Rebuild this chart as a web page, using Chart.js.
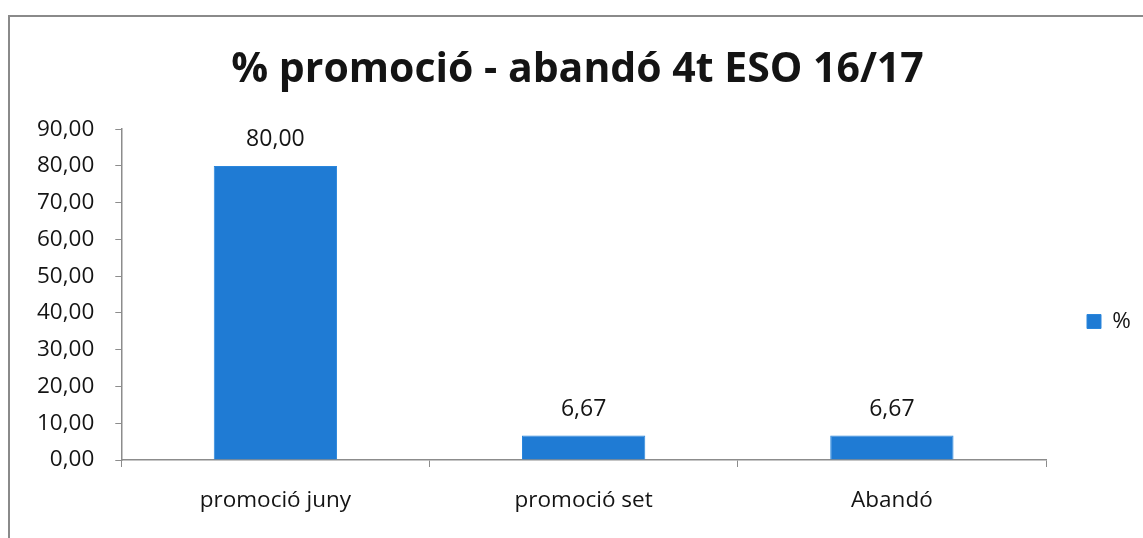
<!DOCTYPE html>
<html>
<head>
<meta charset="utf-8">
<script src="https://cdn.jsdelivr.net/npm/chart.js@4/dist/chart.umd.min.js"></script>
<style>
  html, body { margin: 0; padding: 0; background: #fff; overflow: hidden; }
  #frame { position: absolute; left: 8px; top: 15px; width: 1150px; height: 540px; border: 2px solid #8a8a8a; box-sizing: border-box; }
  #wrap { position: absolute; left: 0; top: 0; width: 1143px; height: 538px; }
</style>
</head>
<body>
<div id="frame"></div>
<div id="wrap"><canvas id="chart"></canvas></div>
<script>
const categories = ['promoció juny', 'promoció set', 'Abandó'];
const values = [80.00, 6.67, 6.67];
const seriesName = '%';
const chartTitle = '% promoció - abandó 4t ESO 16/17';

const fmt = v => v.toFixed(2).replace('.', ',');
const fontFamily = '"Open Sans", "Noto Sans", sans-serif';

// value labels above the bars
const barLabels = {
  id: 'barLabels',
  afterDatasetsDraw(chart) {
    const ctx = chart.ctx;
    const meta = chart.getDatasetMeta(0);
    ctx.save();
    ctx.font = '23px ' + fontFamily;
    ctx.fillStyle = '#141414';
    ctx.textAlign = 'center';
    ctx.textBaseline = 'bottom';
    meta.data.forEach((bar, i) => {
      ctx.fillText(fmt(values[i]), bar.x, bar.y - 15);
    });
    ctx.restore();
  }
};

// make the legend column wider so the plot ends where the original does
const legendWidth = {
  id: 'legendWidth',
  beforeLayout(chart) {
    const lg = chart.legend;
    if (lg && !lg._widthPatched) {
      const fit = lg.fit.bind(lg);
      lg.fit = function () { fit(); this.width = 93; };
      lg._widthPatched = true;
    }
  }
};

let ctx = document.getElementById('chart').getContext('2d');
let chart = new Chart(ctx, {
  type: 'bar',
  data: {
    labels: categories,
    datasets: [{
      label: seriesName,
      data: values,
      backgroundColor: '#1f7bd4',
      borderColor: '#2a86dc',
      borderWidth: 1,
      categoryPercentage: 1.0,
      barPercentage: 0.4
    }]
  },
  options: {
    responsive: true,
    maintainAspectRatio: false,
    animation: false,
    layout: { padding: { left: 16, right: 4, top: 46, bottom: 4 } },
    scales: {
      y: {
        min: 0,
        max: 90,
        ticks: {
          stepSize: 10,
          padding: 21,
          color: '#141414',
          font: { family: fontFamily, size: 22.5 },
          callback: v => fmt(v)
        },
        grid: { drawOnChartArea: false, drawTicks: true, tickLength: 6, color: '#8c8c8c' },
        border: { display: true, color: '#8c8c8c', width: 1.5 }
      },
      x: {
        ticks: {
          padding: 20,
          color: '#141414',
          font: { family: fontFamily, size: 22.5 }
        },
        grid: { drawOnChartArea: false, drawTicks: true, tickLength: 7, color: '#8c8c8c' },
        border: { display: true, color: '#8c8c8c', width: 1.5 }
      }
    },
    plugins: {
      title: {
        display: true,
        text: chartTitle,
        color: '#141414',
        font: { family: fontFamily, size: 41, weight: 'bold' },
        padding: { top: 0, bottom: 34 }
      },
      legend: {
        position: 'right',
        title: {
          display: true,
          text: ' ',
          font: { family: fontFamily, size: 20 },
          padding: { top: 39, bottom: 0 }
        },
        labels: {
          boxWidth: 14,
          boxHeight: 14,
          padding: 41,
          color: '#141414',
          font: { family: fontFamily, size: 22.5 }
        }
      },
      tooltip: { enabled: false }
    }
  },
  plugins: [barLabels, legendWidth]
});
</script>
</body>
</html>
